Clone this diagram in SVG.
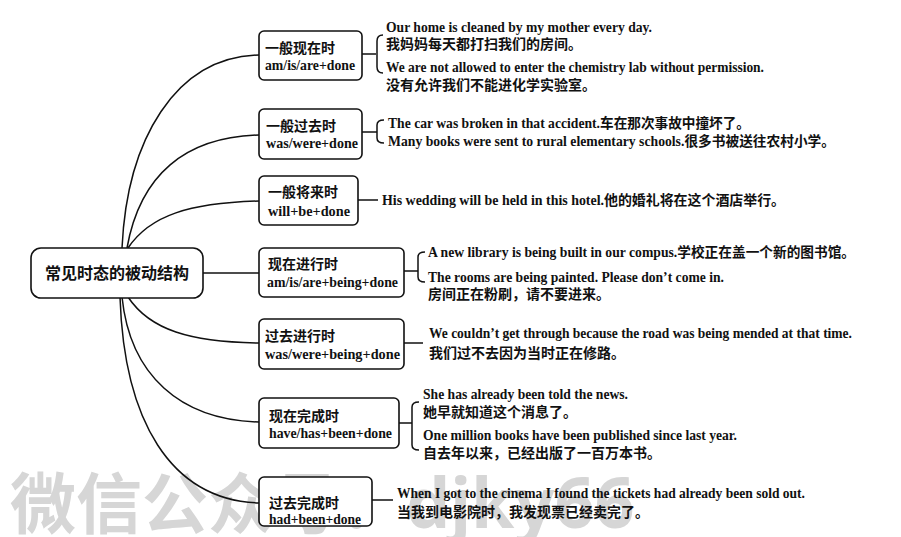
<svg xmlns="http://www.w3.org/2000/svg" width="901" height="537" viewBox="0 0 901 537">
<style>
.bg{fill:#ffffff}
.wm{font-family:"Noto Sans CJK SC","Noto Sans",sans-serif;font-size:66px;font-weight:bold;fill:#d6d6d6}
.box{fill:#ffffff;stroke:#111;stroke-width:1.6}
.ln{fill:none;stroke:#111;stroke-width:1.5}
.t{font-family:"Liberation Serif","Noto Sans CJK SC",serif;font-size:14px;font-weight:bold;fill:#111}
.c{font-family:"Noto Sans CJK SC",sans-serif;font-size:14px;font-weight:bold;fill:#111}
.root{font-family:"Noto Sans CJK SC",sans-serif;font-size:16px;font-weight:bold;fill:#111}
</style>
<rect class="bg" x="0" y="0" width="901" height="537"/>
<text class="wm" x="10" y="528">微信公众号：<tspan font-family="'Noto Sans',sans-serif" font-size="70">djky66</tspan></text>

<g id="connectors">
  <path class="ln" d="M122,248 C127,140 175,57 259,55"/>
  <path class="ln" d="M127,248 C140,175 185,137 259,135"/>
  <path class="ln" d="M128,248 C150,215 190,203 259,201"/>
  <path class="ln" d="M203,273 L259,273"/>
  <path class="ln" d="M128,297 C150,330 190,342 259,343"/>
  <path class="ln" d="M122,297 C130,375 180,420 259,422"/>
  <path class="ln" d="M120,297 C124,420 170,500 259,503"/>
  <path class="ln" d="M362,54 L376,54 M383,35 Q377,35 377,41 L377,67 Q377,73 383,73"/>
  <path class="ln" d="M362,132 L377,132 M384,120 Q377,120 377,125 L377,138 Q377,143 384,143"/>
  <path class="ln" d="M358,200 L378,200"/>
  <path class="ln" d="M404,271 L418,271 M425,252 Q418,252 418,257 L418,277 Q418,282 425,282"/>
  <path class="ln" d="M404,343 L423,343"/>
  <path class="ln" d="M399,423 L412,423 M419,402 Q412,402 412,407 L412,445 Q412,450 419,450"/>
  <path class="ln" d="M372,500 L393,500"/>
</g>

<g id="root">
  <rect class="box" x="31" y="248" width="172" height="50" rx="10"/>
  <text class="root" x="117" y="279" text-anchor="middle">常见时态的被动结构</text>
</g>

<g id="n1">
  <rect class="box" x="259" y="31" width="103" height="49" rx="5"/>
  <text class="c" x="265" y="53">一般现在时</text>
  <text class="t" x="265" y="70" textLength="90" lengthAdjust="spacingAndGlyphs">am/is/are+done</text>
</g>
<g id="n1-ex">
  <text class="t" x="386" y="32" textLength="266" lengthAdjust="spacingAndGlyphs">Our home is cleaned by my mother every day.</text>
  <text class="c" x="386" y="49">我妈妈每天都打扫我们的房间。</text>
  <text class="t" x="386" y="72" textLength="378" lengthAdjust="spacingAndGlyphs">We are not allowed to enter the chemistry lab without permission.</text>
  <text class="c" x="386" y="90">没有允许我们不能进化学实验室。</text>
</g>

<g id="n2">
  <rect class="box" x="259" y="109" width="103" height="50" rx="5"/>
  <text class="c" x="266" y="131">一般过去时</text>
  <text class="t" x="266" y="148" textLength="92" lengthAdjust="spacingAndGlyphs">was/were+done</text>
</g>
<g id="n2-ex">
  <text class="t" x="388" y="128" textLength="362" lengthAdjust="spacingAndGlyphs">The car was broken in that accident.车在那次事故中撞坏了。</text>
  <text class="t" x="388" y="146" textLength="447" lengthAdjust="spacingAndGlyphs">Many books were sent to rural elementary schools.很多书被送往农村小学。</text>
</g>

<g id="n3">
  <rect class="box" x="259" y="176" width="99" height="49" rx="5"/>
  <text class="c" x="268" y="197">一般将来时</text>
  <text class="t" x="268" y="216" textLength="82" lengthAdjust="spacingAndGlyphs">will+be+done</text>
</g>
<g id="n3-ex">
  <text class="t" x="382" y="205" textLength="403" lengthAdjust="spacingAndGlyphs">His wedding will be held in this hotel.他的婚礼将在这个酒店举行。</text>
</g>

<g id="n4">
  <rect class="box" x="259" y="248" width="145" height="49" rx="5"/>
  <text class="c" x="268" y="269">现在进行时</text>
  <text class="t" x="267" y="287" textLength="131" lengthAdjust="spacingAndGlyphs">am/is/are+being+done</text>
</g>
<g id="n4-ex">
  <text class="t" x="428" y="257" textLength="427" lengthAdjust="spacingAndGlyphs">A new library is being built in our compus.学校正在盖一个新的图书馆。</text>
  <text class="t" x="428" y="282" textLength="296" lengthAdjust="spacingAndGlyphs">The rooms are being painted. Please don’t come in.</text>
  <text class="c" x="428" y="299">房间正在粉刷，请不要进来。</text>
</g>

<g id="n5">
  <rect class="box" x="259" y="319" width="145" height="50" rx="5"/>
  <text class="c" x="265" y="341">过去进行时</text>
  <text class="t" x="265" y="359" textLength="135" lengthAdjust="spacingAndGlyphs">was/were+being+done</text>
</g>
<g id="n5-ex">
  <text class="t" x="429" y="338" textLength="423" lengthAdjust="spacingAndGlyphs">We couldn’t get through because the road was being mended at that time.</text>
  <text class="c" x="429" y="358">我们过不去因为当时正在修路。</text>
</g>

<g id="n6">
  <rect class="box" x="259" y="398" width="140" height="50" rx="5"/>
  <text class="c" x="269" y="421">现在完成时</text>
  <text class="t" x="269" y="438" textLength="123" lengthAdjust="spacingAndGlyphs">have/has+been+done</text>
</g>
<g id="n6-ex">
  <text class="t" x="423" y="399" textLength="205" lengthAdjust="spacingAndGlyphs">She has already been told the news.</text>
  <text class="c" x="423" y="417">她早就知道这个消息了。</text>
  <text class="t" x="423" y="440" textLength="314" lengthAdjust="spacingAndGlyphs">One million books have been published since last year.</text>
  <text class="c" x="423" y="458">自去年以来，已经出版了一百万本书。</text>
</g>

<g id="n7">
  <rect class="box" x="259" y="477" width="113" height="49" rx="5"/>
  <text class="c" x="269" y="508">过去完成时</text>
  <text class="t" x="269" y="524" textLength="92" lengthAdjust="spacingAndGlyphs">had+been+done</text>
</g>
<g id="n7-ex">
  <text class="t" x="397" y="498" textLength="408" lengthAdjust="spacingAndGlyphs">When I got to the cinema I found the tickets had already been sold out.</text>
  <text class="c" x="397" y="517">当我到电影院时，我发现票已经卖完了。</text>
</g>
</svg>
